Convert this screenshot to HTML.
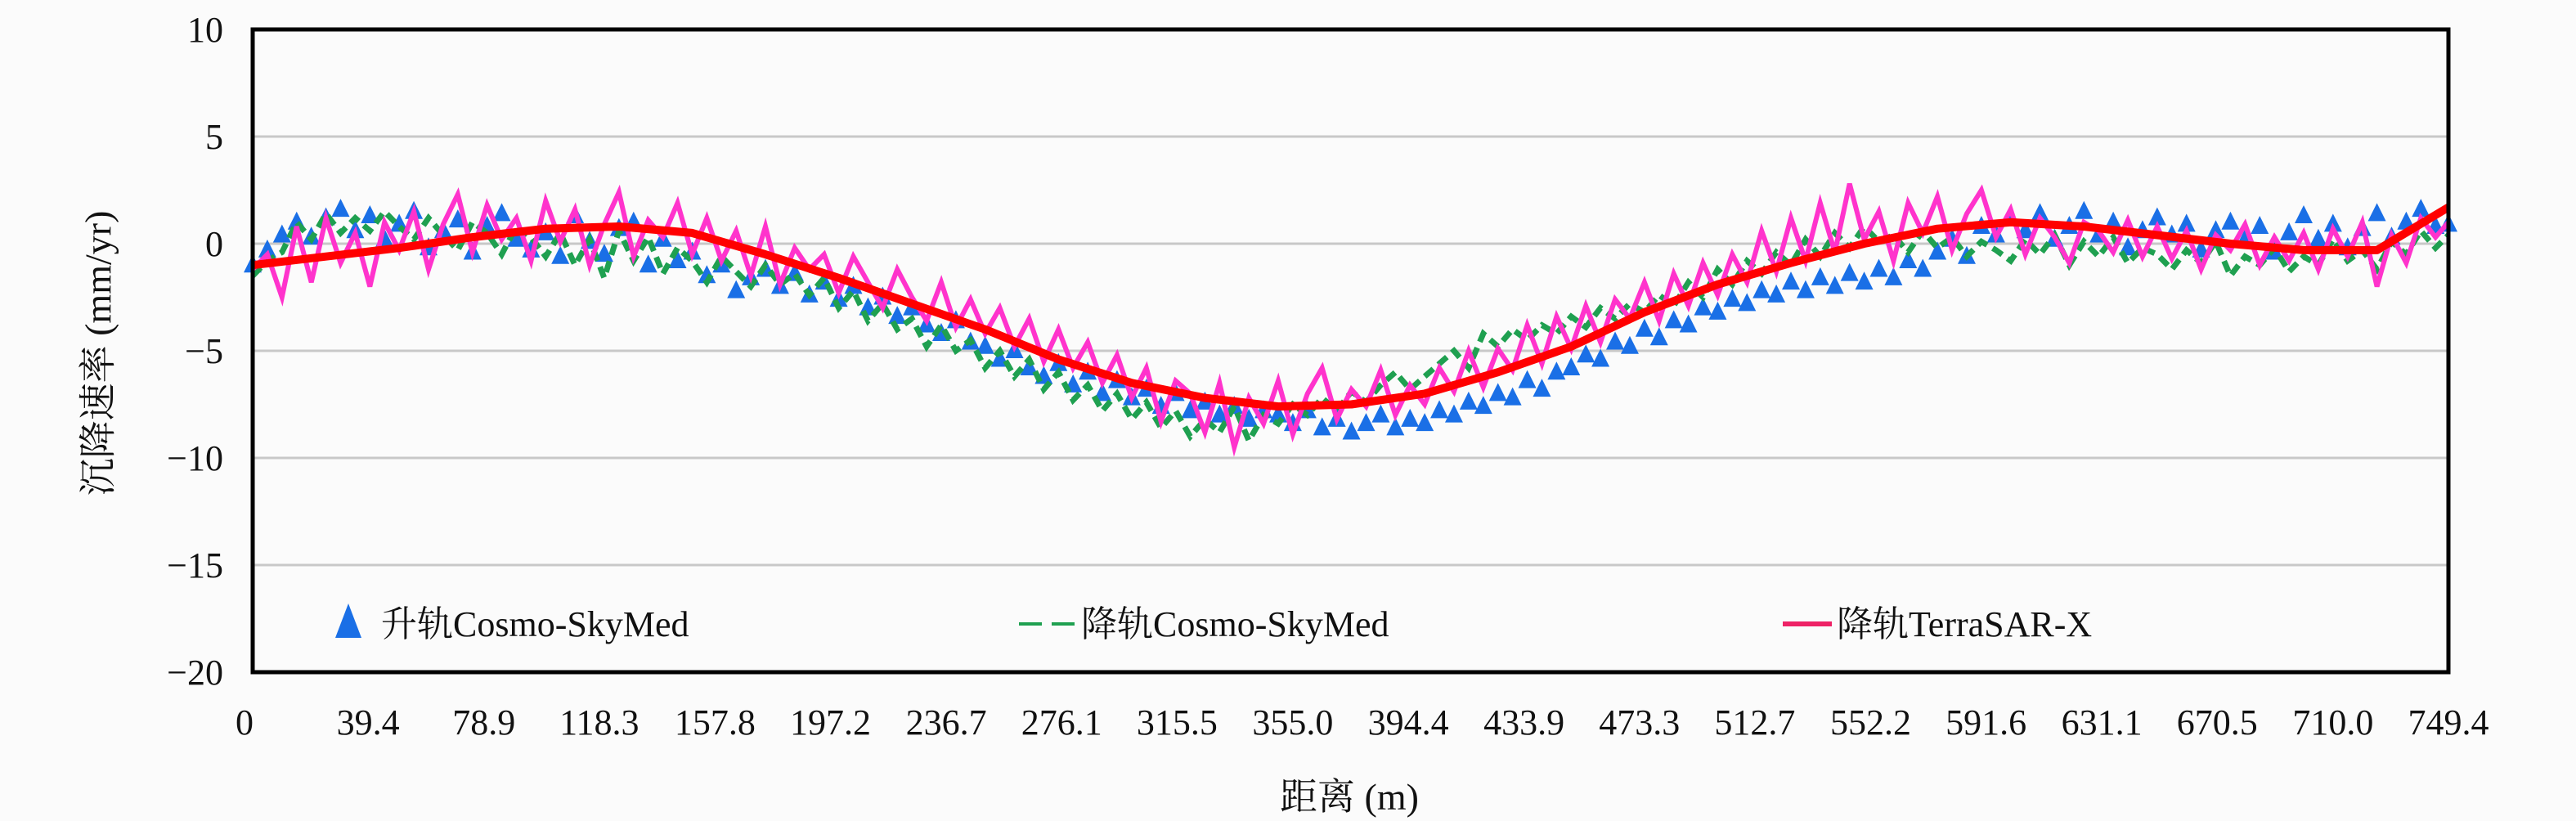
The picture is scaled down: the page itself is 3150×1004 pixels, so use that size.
<!DOCTYPE html>
<html><head><meta charset="utf-8"><style>
html,body{margin:0;padding:0;background:#fbfbfb;}
svg{display:block;}
text{font-family:"Liberation Serif","Noto Serif CJK SC",serif;fill:#111;}
</style></head><body>
<svg id="chart" width="3150" height="1004" viewBox="0 0 3150 1004">
<rect x="0" y="0" width="3150" height="1004" fill="#fbfbfb"/>
<g id="grid"></g>
<g id="series"></g>
<rect x="309" y="36" width="2685" height="786" fill="none" stroke="#000" stroke-width="5"/>
<g id="yticks"></g>
<g id="xticks"></g>
<text x="125" y="432" font-size="46" text-anchor="middle" transform="rotate(-90 125 432)" dominant-baseline="middle">沉降速率 (mm/yr)</text>
<text x="1650" y="990" font-size="46" text-anchor="middle">距离 (m)</text>
<g>
 <g>
  <path d="M426 738 L442 780 L410 780 Z" fill="#1a6fe6"/>
  <text x="466" y="778" font-size="44">升轨Cosmo-SkyMed</text>
 </g>
 <g>
  <line x1="1246" y1="763" x2="1316" y2="763" stroke="#1fa050" stroke-width="4" stroke-dasharray="28,12"/>
  <text x="1322" y="778" font-size="44">降轨Cosmo-SkyMed</text>
 </g>
 <g>
  <line x1="2180" y1="763" x2="2240" y2="763" stroke="#ee2266" stroke-width="6"/>
  <text x="2246" y="778" font-size="44">降轨TerraSAR-X</text>
 </g>
</g>
</svg>
<script>
const yTicks=[10,5,0,-5,-10,-15,-20];
const xTicks=[0,39.4,78.9,118.3,157.8,197.2,236.7,276.1,315.5,355.0,394.4,433.9,473.3,512.7,552.2,591.6,631.1,670.5,710.0,749.4];
const redX=[0,25,50,75,100,125,150,175,200,225,250,275,300,325,350,375,400,425,450,475,500,525,550,575,600,625,650,675,700,725,749.4];
const redY=[-1.0,-0.6,-0.2,0.3,0.7,0.8,0.5,-0.5,-1.6,-2.8,-4.0,-5.4,-6.5,-7.2,-7.6,-7.5,-7.0,-6.0,-4.8,-3.2,-1.9,-0.9,0,0.7,1.0,0.8,0.4,0,-0.3,-0.3,1.7];
const pinkY=[-1.2,-0.5,-2.5,0.8,-1.8,1.2,-0.9,0.5,-2.0,1.0,
-0.3,1.5,-1.2,0.9,2.3,-0.4,1.8,0.2,1.2,-0.8,
2.0,0.1,1.6,-1.0,0.9,2.4,-0.6,1.1,0.3,1.9,
-0.5,1.2,-0.8,0.6,-1.5,0.8,-1.9,-0.2,-1.2,-0.5,
-2.3,-0.6,-1.8,-3.0,-1.2,-2.5,-3.6,-1.8,-3.9,-2.6,
-4.2,-3.0,-4.8,-3.5,-5.5,-4.0,-5.8,-4.6,-6.5,-5.2,
-7.2,-5.8,-8.3,-6.4,-7.0,-8.8,-6.5,-9.5,-7.2,-8.4,
-6.4,-8.9,-7.0,-5.8,-8.2,-6.8,-7.6,-5.9,-8.0,-6.6,
-7.5,-5.8,-6.9,-5.0,-6.7,-4.9,-5.9,-3.8,-5.6,-3.4,
-4.9,-2.9,-4.6,-2.6,-3.5,-1.8,-3.6,-1.4,-2.9,-0.9,
-2.4,-0.5,-1.8,0.6,-1.3,1.2,-0.8,1.9,-0.4,2.8,
0.2,1.5,-0.8,1.9,0.5,2.2,-0.3,1.4,2.5,0.3,
1.6,-0.5,1.2,0.3,-0.9,1.0,0.6,-0.4,1.1,-0.6,
0.8,-0.7,0.6,-1.2,0.4,-0.3,0.9,-1.0,0.3,-0.8,
0.5,-1.2,0.7,-0.6,1.0,-2.0,0.4,-0.9,1.2,0.3,1.0];
const greenY=[-1.5,-0.8,-0.4,1.0,0.2,1.4,0.5,1.2,0.6,1.5,
0.8,0.2,1.2,0.4,-0.3,1.0,0.5,-0.5,0.8,0.3,
-0.6,0.5,-1.0,0.2,-1.6,0.6,-0.8,0.3,-1.4,-0.2,
-0.8,-1.8,-0.6,-1.3,-2.0,-1.0,-1.9,-1.4,-2.4,-1.6,
-3.0,-2.2,-3.6,-2.8,-4.0,-3.5,-4.8,-3.8,-5.0,-4.5,
-5.8,-5.0,-6.2,-5.4,-6.8,-6.0,-7.3,-6.6,-7.8,-7.0,
-8.2,-7.4,-8.6,-7.8,-9.0,-8.2,-8.8,-7.6,-9.2,-8.0,
-8.4,-7.5,-8.0,-7.2,-7.8,-6.9,-7.4,-6.6,-6.0,-6.8,
-6.2,-5.6,-5.0,-5.8,-4.2,-4.8,-4.0,-4.5,-3.8,-4.2,
-3.4,-3.9,-3.0,-3.5,-2.8,-3.2,-2.4,-2.9,-1.8,-2.5,
-1.2,-1.9,-0.8,-1.4,-0.4,-1.0,0.2,-0.6,0.5,-0.2,
0.8,0.1,0.4,-0.4,0.6,-0.2,0.3,-0.6,0.1,-0.3,
-0.8,0.2,-0.5,0.4,-1.0,0.1,-0.6,0.3,-0.9,-0.2,
-0.5,-1.2,-0.3,-0.9,0.1,-1.5,-0.6,-1.0,-0.2,-1.3,
-0.6,-1.0,0.2,-0.8,-0.3,-1.2,0.1,-0.5,0.6,-0.2,0.4];
const blueY=[-1.0,-0.3,0.4,1.0,0.3,1.2,1.6,0.6,1.3,0.2,
0.9,1.5,-0.2,0.6,1.1,-0.4,0.8,1.4,0.2,-0.3,
0.5,-0.6,1.3,0.1,-0.5,0.7,1.0,-1.0,0.2,-0.8,
-0.4,-1.5,-1.0,-2.2,-1.6,-1.2,-2.0,-1.4,-2.4,-1.8,
-2.6,-2.0,-3.0,-2.5,-3.4,-3.0,-3.8,-4.2,-3.6,-4.6,
-4.8,-5.4,-5.0,-5.8,-6.2,-5.6,-6.6,-6.0,-7.0,-6.4,
-7.2,-6.8,-7.6,-7.0,-7.8,-7.4,-8.0,-7.6,-8.2,-7.8,
-8.0,-8.4,-7.8,-8.6,-8.2,-8.8,-8.4,-8.0,-8.6,-8.2,
-8.4,-7.8,-8.0,-7.4,-7.6,-7.0,-7.2,-6.4,-6.8,-6.0,
-5.8,-5.2,-5.4,-4.6,-4.8,-4.0,-4.4,-3.6,-3.8,-3.0,
-3.2,-2.6,-2.8,-2.2,-2.4,-1.8,-2.2,-1.6,-2.0,-1.4,
-1.8,-1.2,-1.6,-0.8,-1.2,-0.4,0.2,-0.6,0.8,0.4,
1.2,0.6,1.4,0.2,0.8,1.5,0.4,1.0,-0.2,0.6,
1.2,0.4,0.9,-0.3,0.6,1.0,0.2,0.8,-0.4,0.5,
1.3,0.2,0.9,-0.2,0.7,1.4,0.3,1.0,1.6,0.8,0.9];

const NS='http://www.w3.org/2000/svg';
const X0=309,X1=2994,XMAX=749.4,Y0=36,Y1=822,YMAX=10,YMIN=-20;
function xs(v){return X0+v/XMAX*(X1-X0);}
function ys(v){return Y0+(YMAX-v)/(YMAX-YMIN)*(Y1-Y0);}
function sampleX(i){return Math.min(i*5,XMAX);}
function mk(tag,attrs,parent){const e=document.createElementNS(NS,tag);for(const k in attrs)e.setAttribute(k,attrs[k]);parent.appendChild(e);return e;}
const grid=document.getElementById('grid'),ser=document.getElementById('series');
const yt=document.getElementById('yticks'),xt=document.getElementById('xticks');
yTicks.forEach(v=>{
 if(v<YMAX&&v>YMIN){const l=mk('line',{x1:X0,x2:X1,y1:ys(v),y2:ys(v),stroke:'#c8c8c8','stroke-width':3},grid);
 
 }
 const t=mk('text',{x:273,y:ys(v)+15,'font-size':44,'text-anchor':'end'},yt);
 t.textContent=(v<0?'\u2212'+(-v):String(v));
 
 
});
xTicks.forEach((v,i)=>{
 const t=mk('text',{x:xs(v)-(i==0?10:0),y:898,'font-size':44,'text-anchor':'middle'},xt);
 t.textContent=(i==0?'0':v.toFixed(1));
 
 
});
const bg=mk('g',{fill:'#1a6fe6'},ser);


blueY.forEach((v,i)=>{const cx=xs(sampleX(i)),cy=ys(v);
 const p=mk('path',{d:`M${cx} ${cy-13} L${cx+11} ${cy+9} L${cx-11} ${cy+9} Z`},bg);
 
 });
function pts(arr,fx){return arr.map((v,i)=>fx(i).toFixed(1)+','+ys(v).toFixed(1)).join(' ');}
const gl=mk('polyline',{points:pts(greenY,i=>xs(sampleX(i))),fill:'none',stroke:'#1fa050','stroke-width':7,'stroke-dasharray':'14,8'},ser);


const pl=mk('polyline',{points:pts(pinkY,i=>xs(sampleX(i))),fill:'none',stroke:'#ff33cc','stroke-width':6,'stroke-linejoin':'miter'},ser);


const rl=mk('polyline',{points:pts(redY,i=>xs(redX[i])),fill:'none',stroke:'#ff0000','stroke-width':10,'stroke-linejoin':'round'},ser);


</script>
</body></html>
